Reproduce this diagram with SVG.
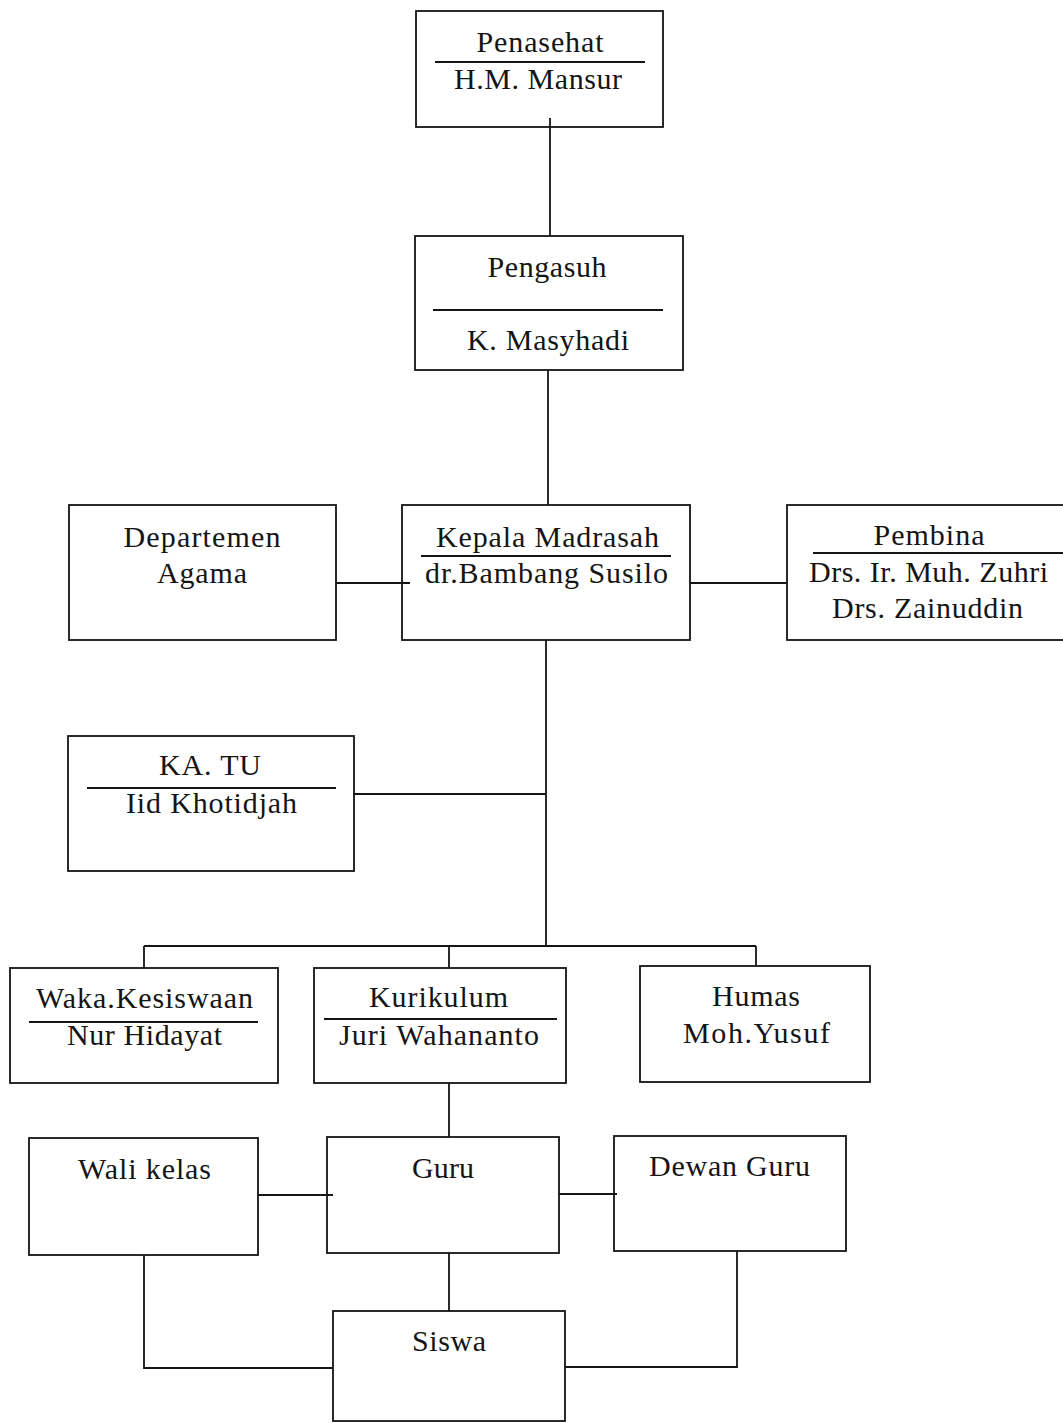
<svg xmlns="http://www.w3.org/2000/svg" width="1063" height="1423" viewBox="0 0 1063 1423">
<style>
.box{fill:none;stroke:#151515;stroke-width:1.8}
.rule{stroke:#151515;stroke-width:1.8}
.con{fill:none;stroke:#151515;stroke-width:1.8}
text{font-family:"Liberation Serif","Times New Roman",serif;font-size:30px;fill:#151515;text-anchor:middle}
</style>
<rect width="1063" height="1423" fill="#ffffff"/>
<g id="connectors">
<line class="con" x1="550" y1="118" x2="550" y2="236"/>
<line class="con" x1="548" y1="370" x2="548" y2="505"/>
<line class="con" x1="546" y1="640" x2="546" y2="946"/>
<line class="con" x1="354" y1="794" x2="546" y2="794"/>
<line class="con" x1="336" y1="583" x2="410" y2="583"/>
<line class="con" x1="690" y1="583" x2="787" y2="583"/>
<line class="con" x1="144" y1="946" x2="756" y2="946"/>
<line class="con" x1="144" y1="946" x2="144" y2="968"/>
<line class="con" x1="449" y1="946" x2="449" y2="968"/>
<line class="con" x1="756" y1="946" x2="756" y2="966"/>
<line class="con" x1="449" y1="1083" x2="449" y2="1137"/>
<line class="con" x1="258" y1="1195" x2="333" y2="1195"/>
<line class="con" x1="559" y1="1194" x2="617" y2="1194"/>
<line class="con" x1="449" y1="1253" x2="449" y2="1311"/>
<path class="con" d="M144,1255 V1368 H333"/>
<path class="con" d="M737,1251 V1367 H565"/>
</g>
<g id="penasehat">
<rect class="box" x="416" y="11" width="247" height="116"/>
<text x="540" y="52" textLength="127">Penasehat</text>
<line class="rule" x1="435" y1="62" x2="645" y2="62"/>
<text x="538" y="89" textLength="168">H.M. Mansur</text>
</g>
<g id="pengasuh">
<rect class="box" x="415" y="236" width="268" height="134"/>
<text x="547" y="277" textLength="119">Pengasuh</text>
<line class="rule" x1="433" y1="310" x2="663" y2="310"/>
<text x="548" y="350" textLength="162">K. Masyhadi</text>
</g>
<g id="departemen">
<rect class="box" x="69" y="505" width="267" height="135"/>
<text x="202" y="547" textLength="157">Departemen</text>
<text x="202" y="583" textLength="90">Agama</text>
</g>
<g id="kepala">
<rect class="box" x="402" y="505" width="288" height="135"/>
<text x="547.5" y="547" textLength="223">Kepala Madrasah</text>
<line class="rule" x1="421" y1="556" x2="671" y2="556"/>
<text x="546.5" y="583" textLength="243">dr.Bambang Susilo</text>
</g>
<g id="pembina">
<rect class="box" x="787" y="505" width="290" height="135"/>
<text x="929" y="545" textLength="111">Pembina</text>
<line class="rule" x1="813" y1="553" x2="1063" y2="553"/>
<text x="928.5" y="582" textLength="239">Drs. Ir. Muh. Zuhri</text>
<text x="927.5" y="618" textLength="191">Drs. Zainuddin</text>
</g>
<g id="katu">
<rect class="box" x="68" y="736" width="286" height="135"/>
<text x="210" y="775" textLength="102">KA. TU</text>
<line class="rule" x1="87" y1="788" x2="336" y2="788"/>
<text x="211.5" y="813" textLength="171">Iid Khotidjah</text>
</g>
<g id="waka">
<rect class="box" x="10" y="968" width="268" height="115"/>
<text x="144.5" y="1008" textLength="217">Waka.Kesiswaan</text>
<line class="rule" x1="29" y1="1022" x2="258" y2="1022"/>
<text x="144.5" y="1045" textLength="155">Nur Hidayat</text>
</g>
<g id="kurikulum">
<rect class="box" x="314" y="968" width="252" height="115"/>
<text x="438.5" y="1007" textLength="139">Kurikulum</text>
<line class="rule" x1="324" y1="1019" x2="557" y2="1019"/>
<text x="439" y="1045" textLength="200">Juri Wahananto</text>
</g>
<g id="humas">
<rect class="box" x="640" y="966" width="230" height="116"/>
<text x="756" y="1006" textLength="88">Humas</text>
<text x="756.5" y="1043" textLength="147">Moh.Yusuf</text>
</g>
<g id="walikelas">
<rect class="box" x="29" y="1138" width="229" height="117"/>
<text x="144.5" y="1179" textLength="133">Wali kelas</text>
</g>
<g id="guru">
<rect class="box" x="327" y="1137" width="232" height="116"/>
<text x="443" y="1178" textLength="62">Guru</text>
</g>
<g id="dewanguru">
<rect class="box" x="614" y="1136" width="232" height="115"/>
<text x="729.5" y="1176" textLength="161">Dewan Guru</text>
</g>
<g id="siswa">
<rect class="box" x="333" y="1311" width="232" height="110"/>
<text x="449" y="1351" textLength="74">Siswa</text>
</g>
</svg>
